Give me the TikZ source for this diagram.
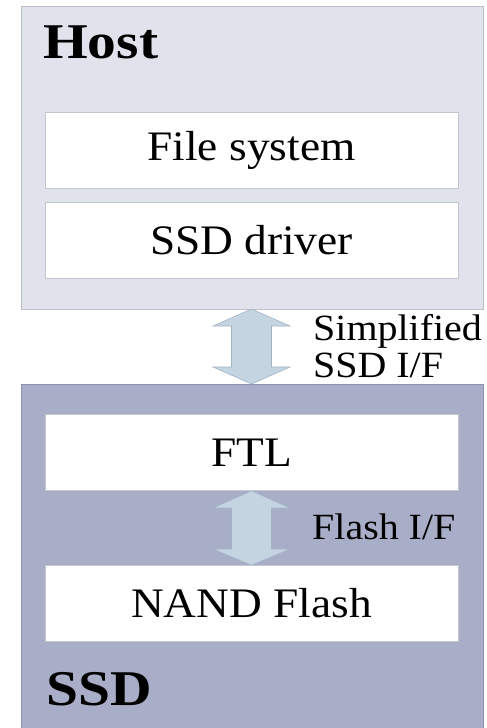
\documentclass[tikz,border=0pt]{standalone}
\usepackage{fontspec}
\setmainfont{Liberation Serif}[FakeStretch=1.08]
\newfontfamily\titlefont{Liberation Serif}[FakeStretch=1.15]
\begin{document}
\begin{tikzpicture}[x=1pt,y=-1pt,
  hostbox/.style={draw=hostedge,fill=hostfill,line width=0.8pt},
  ssdbox/.style={draw=ssdedge,fill=ssdfill,line width=0.8pt},
  layer/.style={draw=layeredge,fill=white,line width=0.6pt,minimum width=413pt,minimum height=76pt,inner sep=0pt,font=\fontsize{42}{42}\selectfont},
  title/.style={anchor=base west,inner sep=0pt,font=\titlefont\fontsize{50}{50}\selectfont\bfseries},
  lbl/.style={anchor=base west,inner sep=0pt,font=\fontsize{37}{37}\selectfont,align=left},
  dblarrow/.style={draw=arrowedge,fill=arrowfill,line width=0.6pt}]
\definecolor{hostfill}{HTML}{E0E3EC}
\definecolor{hostedge}{HTML}{BCC0CC}
\definecolor{ssdfill}{HTML}{A9AEC8}
\definecolor{ssdedge}{HTML}{8C92B2}
\definecolor{layeredge}{HTML}{C4C7D0}
\definecolor{arrowfill}{HTML}{C5D4E1}
\definecolor{arrowedge}{HTML}{A3B3C6}
\useasboundingbox (0,0) rectangle (487,728);
% containers
\path[hostbox] (21,6) rectangle (483,309);
\path[ssdbox] (21,384) rectangle (483,740);
% layers
\node[layer] (fs)   at (251.5,150.5) {File system};
\node[layer] (drv)  at (251.5,240) {SSD driver};
\node[layer] (ftl)  at (251.5,452.5) {FTL};
\node[layer] (nand) at (251.5,603.5) {NAND Flash};
% titles
\node[title] (host) at (43,58) {Host};
\node[title] (ssd)  at (46,705) {SSD};
% interface arrows
\coordinate (a1t) at (251.5,309);
\coordinate (a1b) at (251.5,384);
\path[dblarrow] (a1t) -- (290,326) -- (271.5,326) -- (271.5,367) -- (290,367)
  -- (a1b) -- (213,367) -- (231.5,367) -- (231.5,326) -- (213,326) -- cycle;
\path[dblarrow] (ftl.south) -- (290,508) -- (271.5,508) -- (271.5,549) -- (290,549)
  -- (nand.north) -- (213,549) -- (231.5,549) -- (231.5,508) -- (213,508) -- cycle;
% labels
\node[lbl] (l1) at (313,377) {Simplified\\SSD I/F};
\node[lbl] (l2) at (312,539) {Flash I/F};
\end{tikzpicture}
\end{document}
